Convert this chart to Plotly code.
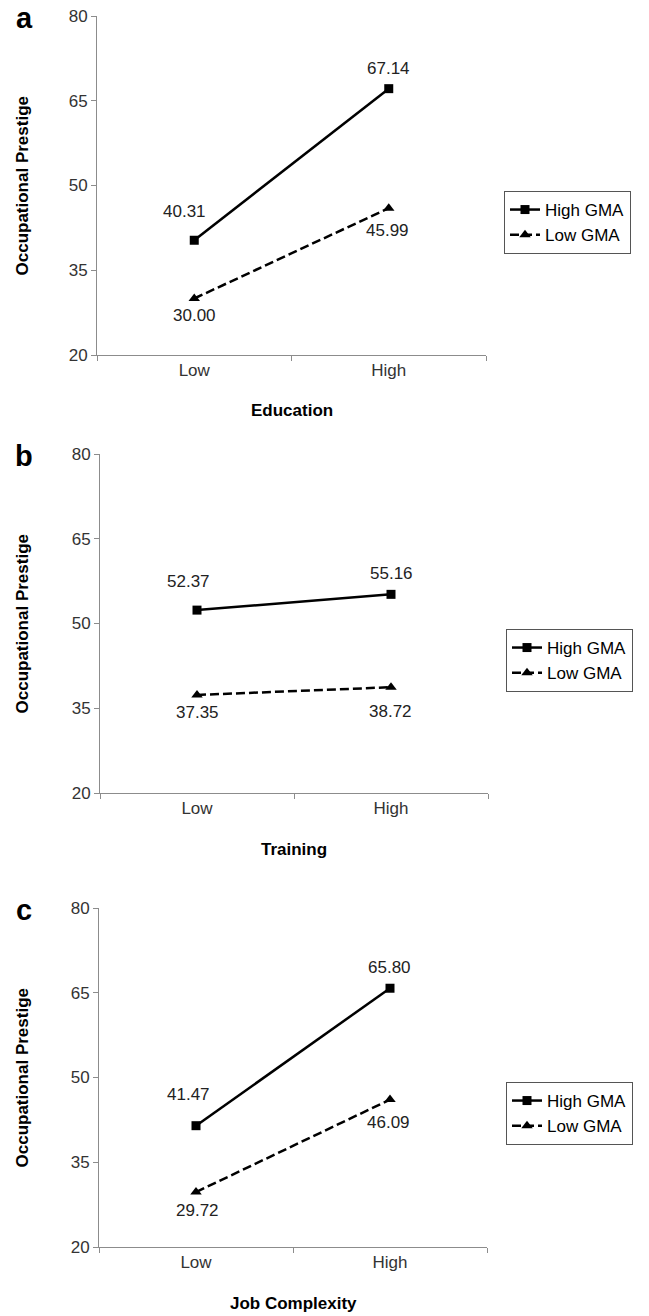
import plotly.graph_objects as go

categories = ["Low", "High"]
panel_letters = ["a", "b", "c"]
x_titles = ["Education", "Training", "Job Complexity"]
high_gma = [[40.31, 67.14], [52.37, 55.16], [41.47, 65.80]]
low_gma = [[30.00, 45.99], [37.35, 38.72], [29.72, 46.09]]
series_names = ["High GMA", "Low GMA"]
y_ticks = [20, 35, 50, 65, 80]

W, H = 649, 1316
# pixel geometry of each panel in the reference: (left, right, top, bottom)
panels_px = [(97, 486, 16, 355), (100, 488, 454, 793), (99, 487, 908, 1247)]
legend_px = [(504, 191), (506, 629), (506, 1082)]
# label offsets (xshift, yshift) for High GMA low/high, Low GMA low/high
hi_shift = [[(-10, 29), (0, 20)], [(-9, 29), (0, 21)], [(-8, 31), (-1, 21)]]
lo_shift = [[(0, -17), (-1, -22)], [(0, -18), (-1, -24)], [(1, -18), (-2, -23)]]


def px(x):
    return x / W


def py(y):
    return 1 - y / H


FONT = "Liberation Sans, Arial, sans-serif"
fig = go.Figure()
ann = []
for i in range(3):
    l, r, t, b = panels_px[i]
    xa = "x" if i == 0 else f"x{i+1}"
    ya = "y" if i == 0 else f"y{i+1}"
    leg = "legend" if i == 0 else f"legend{i+1}"
    fig.add_trace(go.Scatter(
        x=categories, y=high_gma[i], name=series_names[0], xaxis=xa, yaxis=ya,
        mode="lines+markers", line=dict(color="black", width=2.5),
        marker=dict(symbol="square", size=9, color="black"),
        legend=leg, cliponaxis=False))
    fig.add_trace(go.Scatter(
        x=categories, y=low_gma[i], name=series_names[1], xaxis=xa, yaxis=ya,
        mode="lines+markers", line=dict(color="black", width=2.5, dash="9px,4px"),
        marker=dict(symbol="triangle-up", size=10, color="black"),
        legend=leg, cliponaxis=False))
    xkey = "xaxis" if i == 0 else f"xaxis{i+1}"
    ykey = "yaxis" if i == 0 else f"yaxis{i+1}"
    fig.update_layout(**{
        xkey: dict(domain=[px(l), px(r)], anchor=ya, type="category",
                   categoryorder="array", categoryarray=categories,
                   range=[-0.5, 1.5], tickson="boundaries", ticks="outside",
                   ticklen=5, tickcolor="#8c8c8c", showline=True,
                   linecolor="#8c8c8c", linewidth=1, showgrid=False,
                   automargin=False,
                   tickfont=dict(size=17, color="#333", family=FONT),
                   fixedrange=True),
        ykey: dict(domain=[py(b), py(t)], anchor=xa, range=[20, 80],
                   tickvals=y_ticks, ticks="outside", ticklen=5,
                   tickcolor="#8c8c8c", showline=True, linecolor="#8c8c8c",
                   linewidth=1, showgrid=False, zeroline=False,
                   automargin=False,
                   tickfont=dict(size=17, color="#333", family=FONT),
                   fixedrange=True),
        leg: dict(x=px(legend_px[i][0]), y=py(legend_px[i][1]),
                  xref="paper", yref="paper", xanchor="left", yanchor="top",
                  bordercolor="#555", borderwidth=1, bgcolor="white",
                  font=dict(size=17, color="black", family=FONT),
                  tracegroupgap=0, itemwidth=30),
    })
    for j in range(2):
        ann.append(dict(x=categories[j], y=high_gma[i][j], xref=xa, yref=ya,
                        text=f"{high_gma[i][j]:.2f}", showarrow=False,
                        xshift=hi_shift[i][j][0], yshift=hi_shift[i][j][1],
                        font=dict(size=17, color="#222", family=FONT)))
        ann.append(dict(x=categories[j], y=low_gma[i][j], xref=xa, yref=ya,
                        text=f"{low_gma[i][j]:.2f}", showarrow=False,
                        xshift=lo_shift[i][j][0], yshift=lo_shift[i][j][1],
                        font=dict(size=17, color="#222", family=FONT)))
    # panel letter
    ann.append(dict(x=px(24), y=py(t + 2), xref="paper", yref="paper",
                    text=f"<b>{panel_letters[i]}</b>", showarrow=False,
                    xanchor="center", yanchor="middle",
                    font=dict(size=29, color="black", family=FONT)))
    # y-axis title
    ann.append(dict(x=px(22), y=py((t + b) / 2), xref="paper", yref="paper",
                    text="<b>Occupational Prestige</b>", showarrow=False,
                    textangle=-90, xanchor="center", yanchor="middle",
                    font=dict(size=17, color="black", family=FONT)))
    # x-axis title
    ann.append(dict(x=px((l + r) / 2), y=py(b + 56), xref="paper",
                    yref="paper", text=f"<b>{x_titles[i]}</b>", showarrow=False,
                    xanchor="center", yanchor="middle",
                    font=dict(size=17, color="black", family=FONT)))

fig.update_layout(width=W, height=H, margin=dict(l=0, r=0, t=0, b=0),
                  plot_bgcolor="white", paper_bgcolor="white",
                  annotations=ann, showlegend=True,
                  font=dict(family=FONT))
fig.write_html("out.html", config={"displayModeBar": False},
               post_script="document.body.style.margin='0px';")
